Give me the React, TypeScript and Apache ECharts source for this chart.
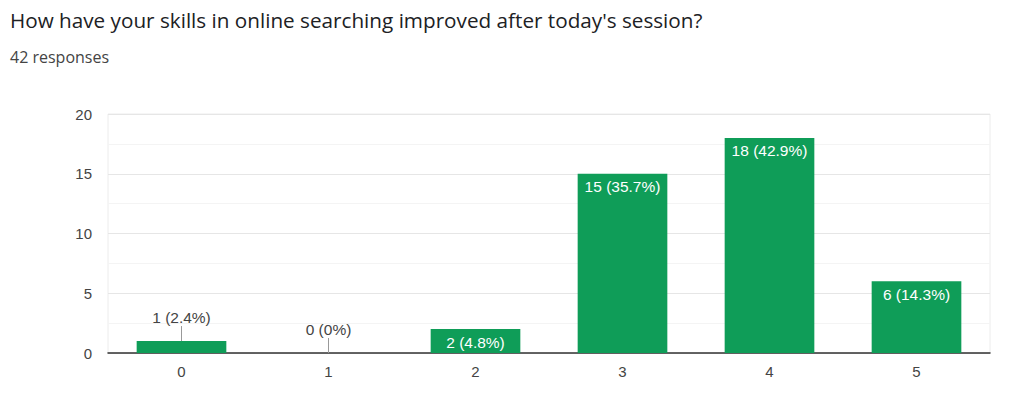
import React, { useEffect, useRef } from "react";
import * as echarts from "echarts";

const titleText = "How have your skills in online searching improved after today's session?";
const subtitleText = "42 responses";
const categories = ["0", "1", "2", "3", "4", "5"];
const counts = [1, 0, 2, 15, 18, 6];
const percents = ["2.4%", "0%", "4.8%", "35.7%", "42.9%", "14.3%"];
const yTicks = [0, 5, 10, 15, 20];

const GREEN = "#0f9d58";
const FONT = "'Liberation Sans', Arial, sans-serif";
const OUTSIDE_THRESHOLD = 2; // values below this get the label above with a leader line

export default function App() {
  const ref = useRef<HTMLDivElement>(null);
  useEffect(() => {
    if (!ref.current) return;
    const chart = echarts.init(ref.current, null, { renderer: "svg" });
    const barData = counts.map((v, i) => {
      const text = `${v} (${percents[i]})`;
      const outside = v < OUTSIDE_THRESHOLD;
      return {
        value: v,
        label: outside
          ? { show: true, position: "top", distance: 16, color: "#444", formatter: text }
          : { show: true, position: "insideTop", distance: 5, color: "#ffffff", formatter: text },
      };
    });
    const leaderData = counts
      .map((v, i) => [i, v])
      .filter((d) => d[1] < OUTSIDE_THRESHOLD);
    chart.setOption({
      animation: false,
      textStyle: { fontFamily: FONT },
      title: [
        {
          text: titleText,
          left: 5,
          top: 4,
          textStyle: { fontFamily: "'Open Sans', Roboto, sans-serif", fontSize: 20.7, fontWeight: "normal", color: "#202124" },
        },
        {
          text: subtitleText,
          left: 5,
          top: 44,
          textStyle: { fontFamily: "'Open Sans', Roboto, sans-serif", fontSize: 16, fontWeight: "normal", color: "#444" },
        },
      ],
      grid: {
        left: 108,
        right: 34,
        top: 114,
        bottom: 46,
        show: true,
        borderColor: "#ececec",
        borderWidth: 1,
      },
      xAxis: {
        type: "category",
        data: categories,
        boundaryGap: true,
        axisLine: { show: true, lineStyle: { color: "#333", width: 1.5 } },
        axisTick: { show: false },
        axisLabel: { color: "#444", fontSize: 15, margin: 11, fontFamily: FONT },
        splitLine: { show: false },
      },
      yAxis: {
        type: "value",
        min: yTicks[0],
        max: yTicks[yTicks.length - 1],
        interval: 5,
        axisLine: { show: false },
        axisTick: { show: false },
        axisLabel: { color: "#444", fontSize: 15, margin: 16, fontFamily: FONT },
        splitLine: { show: true, lineStyle: { color: "#e6e6e6", width: 1 } },
        minorTick: { show: false, splitNumber: 2 },
        minorSplitLine: { show: true, lineStyle: { color: "#f4f4f4", width: 1 } },
      },
      series: [
        {
          type: "bar",
          data: barData,
          barWidth: "61%",
          itemStyle: { color: GREEN },
          label: { fontSize: 15.5, fontFamily: FONT },
          z: 2,
        },
        {
          type: "custom",
          data: leaderData,
          z: 3,
          silent: true,
          renderItem: (params: any, api: any) => {
            const p = api.coord([api.value(0), api.value(1)]);
            return {
              type: "line",
              shape: { x1: p[0], y1: p[1], x2: p[0], y2: p[1] - 15 },
              style: { stroke: "#999", lineWidth: 1 },
            };
          },
        },
      ],
    });
    return () => chart.dispose();
  }, []);
  return (
    <div
      ref={ref}
      style={{ position: "fixed", left: 0, top: 0, width: 1024, height: 399, background: "#fff" }}
    />
  );
}
